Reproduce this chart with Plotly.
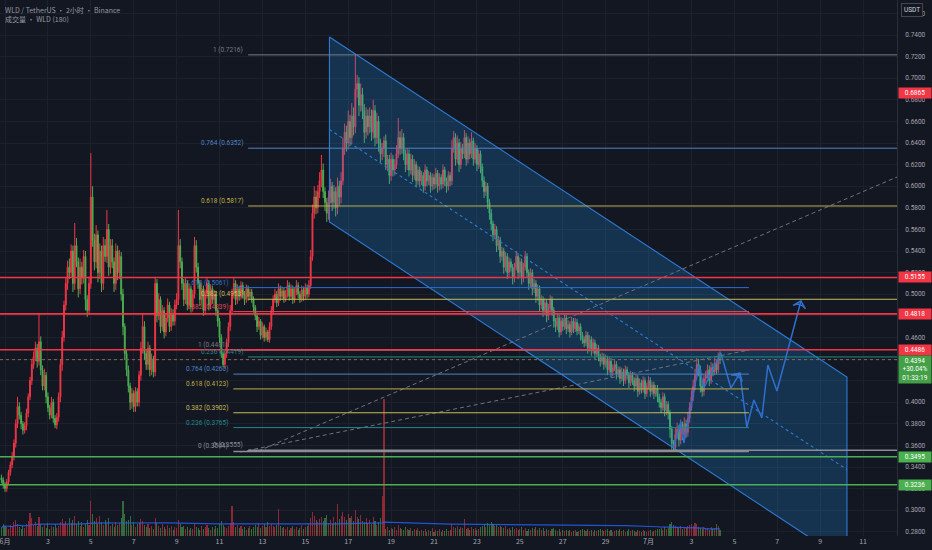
import pandas as pd
import plotly.graph_objects as go

# WLD/USDT 2h candles, prices in units of 0.0001
firstOpen = 3300
closes = [
    3280, 3240, 3200, 3260,
    3350, 3420, 3500, 3620,
    3800, 3960,
    3880, 3800, 3740, 3780,
    3900, 4050, 4200, 4350, 4420,
    4500, 4380, 4560, 4300,
    4150, 4250, 4050, 3950, 3880, 4000, 3850,
    3790, 3860,
    4050, 4350, 4600, 4900, 5100, 5250,
    5200, 5400, 5100, 5450, 5300, 5050, 5250, 5150, 5350,
    4950, 4850, 5100,
    5900,
    5500, 5300, 5550, 5200, 5400, 5100, 5450, 5350, 5600, 5250, 5450,
    5300, 5100, 5400, 5200, 5350,
    5000, 4700, 4450, 4300,
    4150, 4000, 4080, 3960, 4100, 4000,
    4250, 4500, 4700,
    4450, 4350, 4500, 4300, 4400, 4280,
    5100,
    4800, 4950, 4700, 4850, 4650, 4780, 4900, 4700, 4820, 4750, 4900, 4950,
    5450, 5300, 5100,
    4950, 5100, 4900, 5050, 4880, 5000,
    5450,
    5250, 5100, 4950, 5050, 4850, 5000, 5100, 4900, 5050, 4950, 5000, 4850, 4750,
    4600, 4450, 4350, 4450, 4550,
    4700, 4850, 5000, 5100, 4950, 5050,
    4980, 5080, 5000, 4950, 5050, 4980, 5020, 4960, 4880,
    4800, 4700, 4750, 4620, 4700, 4600, 4650, 4580, 4700,
    4850, 4950, 5000, 4920, 5050, 4980, 5030, 4960,
    5000, 5080, 4980, 5050, 4950, 5020, 5080, 5000, 4960, 5040, 4980, 5060, 5000, 5080,
    5350, 5750, 5900, 5800,
    5950, 6050, 6150,
    5950, 5850, 5750, 5900, 6000, 5850, 5950, 5800, 6000, 5900, 6050,
    6350, 6500,
    6400, 6600, 6450, 6650, 6550,
    6900,
    6950, 6750, 6850, 6700,
    6500, 6650, 6550,
    6650, 6500, 6700, 6450, 6600, 6400, 6300,
    6350, 6420, 6200, 6250, 6100, 6250, 6150, 6200, 6300,
    6450, 6350, 6450, 6300, 6200, 6300,
    6150, 6250, 6100, 6200, 6050, 6150, 6050,
    6100, 6000, 6150, 6050, 6100, 6000, 6080, 6020, 6120, 6000, 6080, 6020, 6150, 6050, 6000, 6100, 6050,
    6350, 6450, 6250, 6400, 6200, 6350, 6300, 6450, 6250,
    6400, 6300, 6420, 6250, 6350, 6200, 6300, 6180,
    6050, 5950, 6000, 5850, 5750,
    5650, 5550, 5600, 5450, 5500, 5350,
    5400, 5250, 5350, 5200, 5300, 5250, 5150,
    5250, 5350, 5200, 5300, 5150, 5250, 5350, 5200, 5100, 5200, 5050,
    5100, 4980, 5050, 4900,
    4950, 4850, 4920, 4800, 4870, 4950, 4850, 4750,
    4700, 4780, 4650, 4750, 4700, 4780, 4680,
    4720, 4650, 4750, 4680, 4740, 4660, 4700, 4620, 4580,
    4550, 4620, 4500, 4580, 4480, 4550, 4450, 4500, 4420, 4380,
    4420, 4350, 4400, 4300, 4380, 4280, 4320, 4350, 4260, 4300, 4220,
    4280, 4200, 4300, 4250, 4180, 4250, 4200,
    4150, 4220, 4100, 4180, 4120, 4200, 4080, 4150, 4200, 4100, 4160, 4080, 4130, 4050,
    4000, 3950, 4050, 3920, 3980, 3900, 3750,
    3620, 3580, 3700,
    3750, 3650, 3780, 3700, 3800, 3720, 3850,
    3950, 4050, 4150, 4250, 4350, 4300,
    4150, 4100, 4220,
    4250, 4300, 4200, 4320, 4280, 4350, 4300, 4400,
    4394,
]

# upper / lower shadow length of each candle (0.0001)
wickUp = [
    30, 25, 20, 30,
    25, 30, 40, 35,
    40, 90,
    40, 30, 25, 35,
    40, 30, 35, 40, 50,
    60, 40, 266, 50,
    40, 60, 30, 40, 25, 50, 30,
    30, 40,
    40, 50, 60, 40, 50, 60,
    80, 60, 50, 209, 70, 40, 80, 50, 60,
    50, 40, 60,
    407,
    100, 60, 90, 40, 70, 50, 80, 60, 180, 50, 60,
    60, 40, 70, 50, 60,
    40, 50, 30, 40,
    40, 30, 50, 30, 40, 30,
    40, 60, 126,
    50, 40, 60, 30, 50, 30,
    60,
    40, 60, 30, 50, 30, 40, 60, 30, 50, 40, 50, 60,
    330, 60, 40,
    40, 60, 30, 50, 30, 40,
    80,
    50, 40, 30, 50, 30, 40, 60, 30, 40, 30, 40, 30, 20,
    30, 30, 20, 40, 40,
    40, 50, 50, 60, 30, 40,
    30, 40, 30, 30, 40, 30, 30, 30, 20,
    20, 30, 40, 20, 40, 20, 40, 20, 40,
    40, 40, 50, 30, 50, 30, 40, 30,
    40, 50, 30, 40, 30, 40, 50, 30, 30, 40, 30, 40, 30, 50,
    60, 80, 100, 60,
    60, 80, 139,
    60, 40, 40, 60, 70, 40, 60, 40, 80, 50, 80,
    100, 80,
    60, 100, 60, 120, 80,
    315,
    80, 60, 100, 60,
    60, 80, 60,
    80, 60, 100, 50, 80, 50, 40,
    50, 40, 60, 40, 40, 60, 40, 50, 80,
    182, 60, 80, 40, 40, 50,
    40, 50, 40, 50, 30, 40, 30,
    40, 30, 50, 30, 40, 30, 40, 30, 50, 30, 40, 30, 50, 30, 30, 40, 30,
    80, 60, 40, 70, 40, 60, 40, 70, 40,
    60, 40, 80, 30, 50, 30, 40, 30,
    30, 40, 40, 30, 30,
    40, 30, 50, 30, 40, 30,
    40, 30, 40, 30, 40, 30, 30,
    40, 50, 30, 40, 30, 40, 50, 30, 30, 40, 30,
    40, 30, 40, 30,
    40, 30, 40, 30, 40, 40, 30, 30,
    30, 40, 30, 40, 30, 40, 30,
    40, 30, 40, 30, 40, 30, 30, 30, 30,
    30, 40, 30, 40, 30, 40, 30, 40, 30, 30,
    40, 30, 40, 30, 40, 30, 30, 40, 30, 30, 30,
    40, 30, 40, 30, 30, 40, 30,
    30, 40, 30, 40, 30, 40, 30, 30, 40, 30, 30, 30, 30, 30,
    30, 30, 40, 30, 30, 30, 30,
    30, 30, 60,
    60, 40, 60, 40, 60, 40, 60,
    50, 60, 60, 60, 60, 50,
    40, 50, 40,
    40, 50, 40, 50, 40, 60, 40, 60,
    70,
]

wickDown = [
    30, 40, 30, 30,
    30, 30, 30, 40,
    40, 40,
    40, 50, 40, 30,
    40, 40, 30, 40, 40,
    40, 60, 40, 50,
    40, 40, 60, 40, 40, 30, 40,
    30, 40,
    40, 50, 60, 40, 50, 60,
    60, 50, 80, 60, 50, 80, 50, 60, 50,
    100, 60, 40,
    50,
    60, 80, 60, 90, 60, 80, 60, 50, 60, 80, 60,
    60, 80, 60, 70, 60,
    60, 80, 60, 60,
    60, 72, 60, 50, 50, 40,
    40, 50, 50,
    60, 50, 50, 60, 50, 50,
    40,
    60, 40, 60, 40, 60, 40, 40, 50, 40, 40, 40, 40,
    50, 60, 60,
    60, 40, 50, 40, 50, 40,
    40,
    50, 50, 60, 40, 50, 40, 40, 50, 40, 40, 40, 50, 50,
    50, 40, 24, 40, 40,
    40, 40, 40, 40, 50, 40,
    40, 30, 40, 50, 30, 40, 30, 40, 50,
    40, 50, 30, 40, 30, 40, 30, 23, 30,
    30, 40, 30, 40, 30, 40, 30, 40,
    30, 30, 40, 30, 40, 30, 30, 40, 40, 30, 40, 30, 40, 30,
    30, 40, 50, 60,
    50, 60, 60,
    60, 80, 81, 60, 60, 80, 60, 80, 60, 80, 60,
    40, 60,
    80, 60, 80, 60, 80,
    60,
    80, 100, 60, 80,
    100, 60, 80,
    60, 80, 60, 80, 60, 80, 80,
    60, 80, 50, 60, 80, 50, 60, 50, 40,
    40, 60, 50, 60, 70, 50,
    60, 40, 60, 40, 60, 40, 60,
    40, 60, 40, 50, 40, 60, 40, 50, 40, 60, 40, 50, 40, 50, 60, 40, 50,
    40, 40, 60, 40, 70, 40, 50, 40, 60,
    40, 50, 40, 60, 40, 60, 40, 60,
    60, 60, 40, 60, 60,
    60, 60, 40, 60, 40, 60,
    40, 60, 40, 60, 40, 40, 60,
    40, 30, 60, 40, 60, 40, 30, 50, 60, 40, 60,
    40, 60, 40, 60,
    40, 60, 40, 60, 40, 40, 50, 60,
    50, 30, 50, 30, 40, 30, 50,
    30, 50, 30, 40, 30, 40, 30, 50, 40,
    40, 30, 50, 30, 50, 30, 50, 30, 40, 50,
    30, 50, 30, 50, 30, 50, 40, 30, 50, 30, 50,
    30, 50, 30, 40, 50, 30, 40,
    50, 30, 50, 30, 40, 30, 50, 30, 30, 50, 30, 50, 30, 50,
    50, 50, 30, 50, 40, 60, 80,
    60, 25, 40,
    40, 60, 40, 50, 40, 50, 40,
    40, 30, 40, 40, 40, 60,
    60, 50, 40,
    40, 30, 50, 30, 40, 30, 40, 30,
    40,
]

# volume per candle (relative units)
volume = [
    8, 12, 10, 9,
    7, 11, 9, 14,
    16, 12,
    9, 7, 10, 8,
    12, 15, 23, 18, 11,
    14, 10, 19, 12,
    9, 11, 8, 13, 7, 10, 9,
    12, 8,
    10, 14, 17, 12, 15, 11,
    18, 13, 16, 20, 12, 15, 10, 14, 9,
    12, 16, 11,
    35,
    22, 15, 18, 12, 20, 14, 11, 16, 13, 18, 10,
    12, 9, 14, 11, 13,
    18, 35, 22, 15,
    16, 20, 11, 14, 9, 12,
    13, 17, 15,
    11, 9, 12, 8, 10, 7,
    18,
    13, 10, 8, 12, 9, 7, 11, 8, 10, 6, 9, 8,
    16, 12, 9,
    10, 7, 9, 6, 8, 7,
    12,
    9, 8, 6, 10, 7, 9, 11, 8, 6, 9, 7, 10, 8,
    12, 15, 11, 9, 8,
    10, 13, 30, 14, 9, 11,
    8, 10, 7, 9, 6, 8, 10, 7, 9,
    11, 9, 13, 8, 10, 12, 9, 14, 10,
    12, 10, 9, 11, 27, 10, 8, 9,
    7, 9, 6, 8, 10, 7, 9, 6, 8, 11, 7, 9, 10, 12,
    18, 24, 20, 16,
    14, 17, 19,
    15, 18, 21, 13, 16, 12, 19, 14, 32, 17, 20,
    24, 19,
    16, 22, 18, 20, 15,
    26,
    19, 17, 21, 15,
    14, 18, 13,
    16, 12, 19, 15, 11, 14, 18,
    40, 137, 7, 9, 6, 8, 7, 9, 6,
    11, 8, 7, 6, 9, 7,
    6, 8, 5, 7, 6, 8, 5,
    6, 5, 7, 4, 6, 5, 8, 4, 6, 5, 7, 4, 6, 5, 7, 5, 6,
    12, 9, 8, 10, 7, 9, 8, 17, 7,
    8, 6, 9, 7, 8, 6, 7, 9,
    10, 12, 9, 13, 11,
    14, 12, 10, 11, 9, 10,
    9, 8, 10, 7, 8, 6, 9,
    7, 8, 6, 7, 9, 6, 8, 5, 7, 6, 8,
    7, 9, 6, 8,
    6, 8, 5, 7, 6, 5, 7, 8,
    6, 5, 7, 4, 6, 5, 6,
    5, 6, 4, 5, 6, 4, 5, 6, 7,
    6, 5, 7, 5, 6, 4, 6, 5, 6, 7,
    6, 5, 6, 7, 5, 6, 4, 5, 6, 5, 7,
    5, 6, 4, 5, 7, 5, 6,
    5, 4, 6, 5, 4, 6, 5, 4, 5, 6, 4, 5, 6, 7,
    7, 8, 6, 9, 7, 8, 12,
    14, 11, 10,
    9, 8, 10, 7, 9, 8, 10,
    11, 12, 10, 13, 12, 9,
    8, 7, 9,
    7, 8, 6, 9, 7, 8, 12, 10,
    6,
]

assert len(closes) == len(wickUp) == len(wickDown) == len(volume)

# horizontal levels
redLevels = [0.5155, 0.4818, 0.4486]
greenLevels = [0.3495, 0.3236]
lastPrice = 0.4394
tagPrices = [0.6865, 0.5155, 0.4818, 0.4486, 0.3495, 0.3236]
tagColors = ["#f23645", "#f23645", "#f23645", "#f23645", "#4caf50", "#4caf50"]

# fib retracements
bigFibLevels = ["1", "0.764", "0.618", "0.382", "0.236", "0"]
bigFibPrices = [0.7216, 0.6352, 0.5817, 0.4953, 0.4419, 0.3555]
bigFibColors = ["#787b86", "#4f83c4", "#bfae45", "#c8bd5a", "#22888a", "#8a8d96"]
bigFibStart, bigFibEnd = "2025-06-12 08:00", "2025-07-12 14:00"

smallFibLevels = ["1.618", "1.382", "1", "0.764", "0.618", "0.382", "0.236", "0"]
smallFibPrices = [0.5061, 0.4839, 0.4481, 0.4260, 0.4123, 0.3902, 0.3765, 0.3544]
smallFibColors = ["#2f6fce", "#e04a57", "#787b86", "#4f83c4", "#bfae45", "#c8bd5a", "#22888a", "#8a8d96"]
smallFibStart, smallFibEnd = "2025-06-11 15:30", "2025-07-05 16:20"

# descending channel
channelDates = ["2025-06-16 03:00", "2025-07-10 06:00"]
channelTop = [0.7381, 0.4233]
channelBottom = [0.5669, 0.2521]

# grey dashed trend lines
trendLines = [
    (["2025-06-12 19:30", "2025-07-12 14:00"], [0.3548, 0.6085]),
    (["2025-06-11 23:15", "2025-07-05 16:20"], [0.3539, 0.4483]),
]

# blue projection path
pathDates = ["2025-07-02 04:00", "2025-07-02 12:00", "2025-07-02 15:30", "2025-07-03 08:15",
             "2025-07-03 14:00", "2025-07-04 08:50", "2025-07-04 20:10", "2025-07-05 06:15",
             "2025-07-05 14:00", "2025-07-05 21:50", "2025-07-06 06:50", "2025-07-06 13:30",
             "2025-07-06 23:40", "2025-07-08 02:30"]
pathPrices = [0.3580, 0.3817, 0.3622, 0.4344, 0.4131, 0.4456, 0.4131, 0.4270,
              0.3770, 0.4020, 0.3854, 0.4344, 0.4104, 0.4937]
pathArrows = [7, 13]

tickDates = pd.date_range("2025-06-01", "2025-07-11", freq="2D")
tickText = ["6月" if d.day == 1 and d.month == 6 else "7月" if d.day == 1 else str(d.day) for d in tickDates]

bg = "#131722"
grid = "#1d212c"
labelColor = "#a3a6af"
font = "Roboto"

dates = pd.date_range("2025-05-31 20:00", periods=len(closes), freq="2h")
opens = [firstOpen] + closes[:-1]
highs = [max(o, c) + w for o, c, w in zip(opens, closes, wickUp)]
lows = [min(o, c) - w for o, c, w in zip(opens, closes, wickDown)]
scale = lambda v: [x / 10000 for x in v]
upColor, downColor = "#f23645", "#4caf50"
volColors = ["rgba(242,54,69,0.55)" if c >= o else "rgba(76,175,80,0.55)" for o, c in zip(opens, closes)]
volMa = pd.Series(volume).rolling(180, min_periods=1).mean()

fig = go.Figure()

fig.add_trace(go.Bar(x=dates, y=volume, marker_color=volColors, marker_line_width=0,
                     width=2 * 3600 * 1000 * 0.6, yaxis="y2", hoverinfo="skip"))
fig.add_trace(go.Scatter(x=dates, y=volMa, mode="lines", line=dict(color="#2962ff", width=1.2),
                         yaxis="y2", hoverinfo="skip", opacity=0.8))

fig.add_trace(go.Candlestick(
    x=dates, open=scale(opens), high=scale(highs), low=scale(lows), close=scale(closes),
    increasing=dict(line=dict(color=upColor, width=1), fillcolor=upColor),
    decreasing=dict(line=dict(color=downColor, width=1), fillcolor=downColor),
    whiskerwidth=0, hoverinfo="skip"))

# channel fill and borders
fig.add_trace(go.Scatter(
    x=[channelDates[0], channelDates[1], channelDates[1], channelDates[0], channelDates[0]],
    y=[channelTop[0], channelTop[1], channelBottom[1], channelBottom[0], channelTop[0]],
    mode="lines", fill="toself", fillcolor="rgba(33,150,243,0.22)",
    line=dict(color="#2e7bd6", width=1.1), hoverinfo="skip"))
fig.add_trace(go.Scatter(
    x=channelDates, y=[(a + b) / 2 for a, b in zip(channelTop, channelBottom)],
    mode="lines", line=dict(color="#2e7bd6", width=1.1, dash="3px,3px"), hoverinfo="skip"))

shapes = []
for d, p in trendLines:
    shapes.append(dict(type="line", xref="x", yref="y", x0=d[0], x1=d[1], y0=p[0], y1=p[1],
                       line=dict(color="#6f727c", width=1, dash="4px,3px")))
for lvl, p, c in zip(bigFibLevels, bigFibPrices, bigFibColors):
    shapes.append(dict(type="line", xref="x", yref="y", x0=bigFibStart, x1=bigFibEnd, y0=p, y1=p,
                       line=dict(color=c, width=1.5 if lvl == "0" else 1)))
for lvl, p, c in zip(smallFibLevels, smallFibPrices, smallFibColors):
    shapes.append(dict(type="line", xref="x", yref="y", x0=smallFibStart, x1=smallFibEnd, y0=p, y1=p,
                       line=dict(color=c, width=1.5 if lvl == "0" else 1)))
for p in redLevels:
    shapes.append(dict(type="line", xref="paper", yref="y", x0=0, x1=1, y0=p, y1=p,
                       line=dict(color="#f23645", width=1.6)))
for p in greenLevels:
    shapes.append(dict(type="line", xref="paper", yref="y", x0=0, x1=1, y0=p, y1=p,
                       line=dict(color="#4caf50", width=1.6)))
shapes.append(dict(type="line", xref="paper", yref="y", x0=0, x1=1, y0=lastPrice, y1=lastPrice,
                   line=dict(color="#8a6a50", width=1, dash="dot")))

# projection path with open arrow heads
fig.add_trace(go.Scatter(
    x=pathDates, y=pathPrices, mode="lines+markers",
    line=dict(color="#2f6fd0", width=1.5),
    marker=dict(symbol="arrow-wide-open", size=9, angleref="previous", color="#2f6fd0",
                line=dict(color="#2f6fd0", width=1.5),
                opacity=[1 if i in pathArrows else 0 for i in range(len(pathDates))]),
    hoverinfo="skip"))

annotations = []
for lvl, p, c in zip(bigFibLevels, bigFibPrices, bigFibColors):
    annotations.append(dict(x=bigFibStart, y=p, xref="x", yref="y", text=f"{lvl} ({p:.4f})",
                            showarrow=False, xanchor="right", yanchor="bottom", xshift=-3, yshift=-1,
                            font=dict(family=font, size=6.5, color=c)))
for lvl, p, c in zip(smallFibLevels, smallFibPrices, smallFibColors):
    annotations.append(dict(x=smallFibStart, y=p, xref="x", yref="y", text=f"{lvl} ({p:.4f})",
                            showarrow=False, xanchor="right", yanchor="bottom", xshift=-3, yshift=-1,
                            font=dict(family=font, size=6.5, color=c)))
for p, c in zip(tagPrices, tagColors):
    annotations.append(dict(x=1, y=p, xref="paper", yref="y", text=f"{p:.4f}", showarrow=False,
                            xanchor="left", yanchor="middle", xshift=1, width=30, align="center",
                            bgcolor=c, borderpad=1, font=dict(family=font, size=6.5, color="white")))
annotations.append(dict(x=1, y=lastPrice, xref="paper", yref="y",
                        text=f"{lastPrice:.4f}<br>+30.04%<br>01:33:19", showarrow=False,
                        xanchor="left", yanchor="top", xshift=1, yshift=5, width=30, align="center",
                        bgcolor="#43a047", borderpad=1, font=dict(family=font, size=6.5, color="white")))
annotations.append(dict(x=1, y=1, xref="paper", yref="paper", text="USDT", showarrow=False,
                        xanchor="left", yanchor="top", xshift=4, yshift=-3, bgcolor=bg,
                        bordercolor="#434651", borderwidth=1, borderpad=2,
                        font=dict(family=font, size=6.5, color="#d1d4dc")))
annotations.append(dict(x=0, y=1, xref="paper", yref="paper", text="WLD / TetherUS • 2小时 • Binance",
                        showarrow=False, xanchor="left", yanchor="top", xshift=3, yshift=-3,
                        font=dict(family="Noto Sans CJK SC", size=7, color="#9598a1")))
annotations.append(dict(x=0, y=1, xref="paper", yref="paper", text="成交量 • WLD (180)",
                        showarrow=False, xanchor="left", yanchor="top", xshift=3, yshift=-12,
                        font=dict(family="Noto Sans CJK SC", size=7, color="#9598a1")))

fig.update_layout(
    width=932, height=550,
    margin=dict(l=0, r=35, t=0, b=14),
    paper_bgcolor=bg, plot_bgcolor=bg,
    showlegend=False, hovermode=False, bargap=0,
    shapes=shapes, annotations=annotations,
    xaxis=dict(type="date", range=["2025-05-31 18:24", "2025-07-12 14:00"],
               rangeslider=dict(visible=False), tickvals=tickDates, ticktext=tickText,
               showgrid=True, gridcolor=grid, gridwidth=1, zeroline=False, showline=False,
               ticks="", ticklabeloverflow="allow",
               tickfont=dict(family="Noto Sans CJK SC", size=7, color=labelColor)),
    yaxis=dict(side="right", range=[0.27611, 0.77241], tick0=0.28, dtick=0.02, tickformat=".4f",
               showgrid=True, gridcolor=grid, gridwidth=1, zeroline=False, showline=True,
               linecolor="#2a2e39", ticks="", ticklabelstandoff=6,
               tickfont=dict(family=font, size=6.5, color=labelColor)),
    yaxis2=dict(overlaying="y", range=[0, 536], visible=False, fixedrange=True),
)

# the page has a default body margin; drop it so the chart fills the window
fig.write_html("out.html", config={"displayModeBar": False},
               post_script="document.body.style.margin='0';document.body.style.background='#131722';")
